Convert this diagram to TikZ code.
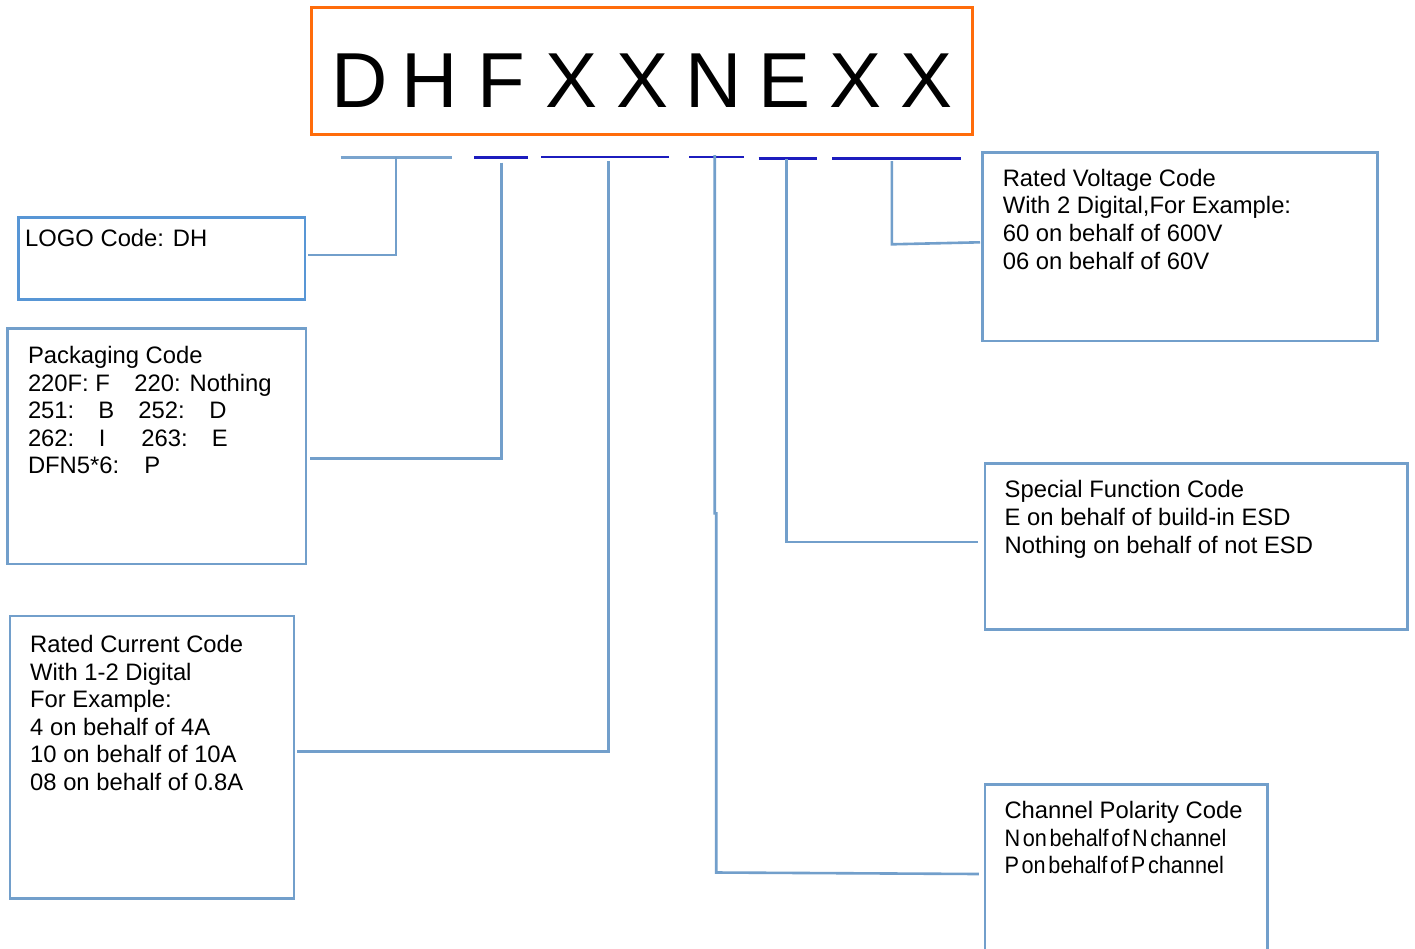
\documentclass[tikz,border=0pt]{standalone}
\usepackage{fontspec}
\setmainfont{Liberation Sans}
\newfontfamily\tightfont{Liberation Sans}[WordSpace=0.45]
\definecolor{conncol}{RGB}{114,159,203}
\definecolor{logocol}{RGB}{88,150,213}
\definecolor{darkline}{RGB}{28,28,190}
\definecolor{lightline}{RGB}{122,164,206}
\definecolor{orangecol}{RGB}{255,108,10}
\newcommand{\lt}[1]{\makebox[70.9pt]{#1}}
\newcommand{\tightline}[1]{\scalebox{0.91}[1]{\tightfont #1}}
\begin{document}
\begin{tikzpicture}[x=1pt,y=-1pt,
  box/.style={draw=conncol, line width=2.8pt, rectangle, inner sep=0pt, outer sep=0pt},
  conn/.style={draw=conncol, line width=2.6pt},
  uline/.style={draw=darkline, line width=2.6pt},
  ulinelight/.style={draw=lightline, line width=3.4pt},
  txt/.style={anchor=north west, inner sep=0pt, align=left, font=\fontsize{23.8pt}{27.6pt}\selectfont},
  bigcode/.style={anchor=base, inner sep=0pt, font=\fontsize{78pt}{80pt}\selectfont},
]
\useasboundingbox (0,0) rectangle (1415,948);
\clip (0,0) rectangle (1415,948);
\fill[white] (0,0) rectangle (1415,948);

% title
\node[box, draw=orangecol, line width=3pt, minimum width=661pt, minimum height=127pt] (title) at (641.5,70.75) {};
\node[bigcode] (code) at (642.8,107.7) {\lt{D}\lt{H}\lt{F}\lt{X}\lt{X}\lt{N}\lt{E}\lt{X}\lt{X}};

% underlines
\draw[ulinelight] (340.5,157.3) -- (452.3,157.3);
\draw[uline] (474.4,157.3) -- (527.8,157.3);
\draw[uline] (541.3,157) -- (669.2,157);
\draw[uline] (689,157) -- (744,157);
\draw[uline] (758.5,158.3) -- (816.5,158.3);
\draw[uline] (832,158.3) -- (960.5,158.3);

% boxes
\node[box, draw=logocol, minimum width=286.7pt, minimum height=82pt] (logo) at (161.65,258.3) {};
\node[box, minimum width=298.7pt, minimum height=235.3pt] (pack) at (156.65,446.35) {};
\node[box, minimum width=284pt, minimum height=282.5pt] (curr) at (152,757.25) {};
\node[box, minimum width=395pt, minimum height=188.7pt] (volt) at (1180,246.65) {};
\node[box, minimum width=422.7pt, minimum height=166pt] (spec) at (1196.35,546.5) {};
\node[box, minimum width=282.5pt, minimum height=240pt] (chan) at (1126.25,904.5) {};

% texts
\node[txt] (logotxt) at (25,226) {\rule{0pt}{20pt}LOGO Code: DH};
\node[txt] (packtxt) at (27.8,343.3) {\rule{0pt}{20pt}Packaging Code\\
\makebox[106.5pt][l]{220F: F}220: Nothing\\
\makebox[70.5pt][l]{251:}\makebox[40pt][l]{B}\makebox[71pt][l]{252:}D\\
\makebox[71pt][l]{262:}\makebox[42.5pt][l]{I}\makebox[70.5pt][l]{263:}E\\
\makebox[116.5pt][l]{DFN5*6:}P};
\node[txt] (currtxt) at (30,632.3) {\rule{0pt}{20pt}Rated Current Code\\
With 1-2 Digital\\
For Example:\\
4 on behalf of 4A\\
10 on behalf of 10A\\
08 on behalf of 0.8A};
\node[txt] (volttxt) at (1002.6,166) {\rule{0pt}{20pt}Rated Voltage Code\\
With 2 Digital,For Example:\\
60 on behalf of 600V\\
06 on behalf of 60V};
\node[txt] (spectxt) at (1004.5,477.7) {\rule{0pt}{20pt}Special Function Code\\
E on behalf of build-in ESD\\
Nothing on behalf of not ESD};
\node[txt] (chantxt) at (1004.3,798.5) {\rule{0pt}{20pt}Channel Polarity Code\\
\tightline{N on behalf of N channel}\\
\tightline{P on behalf of P channel}};

% connectors
\coordinate (t1) at (396.1,157.3);
\coordinate (t2) at (501.7,162.7);
\coordinate (t3) at (608.7,161);
\coordinate (t4) at (714.7,155);
\coordinate (t5) at (786.7,159.3);
\coordinate (t6) at (891.9,161);
\draw[conn] (t1) |- ([shift={(3,-3.3)}]logo.east);
\draw[conn] (t2) |- ([shift={(3.8,12.35)}]pack.east);
\draw[conn] (t3) |- ([shift={(3.4,-5.55)}]curr.east);
\draw[conn] (t4) -- ++(0,358.3) -- ++(1.5,0) -- ++(0,359.2) -- ([shift={(-6.2,89.5)}]chan.north west);
\draw[conn] (t5) |- ([shift={(-6.7,-4.5)}]spec.west);
\draw[conn] (t6) -- ++(0,83.3) -- ([shift={(-2.5,-4.35)}]volt.west);
\end{tikzpicture}
\end{document}
